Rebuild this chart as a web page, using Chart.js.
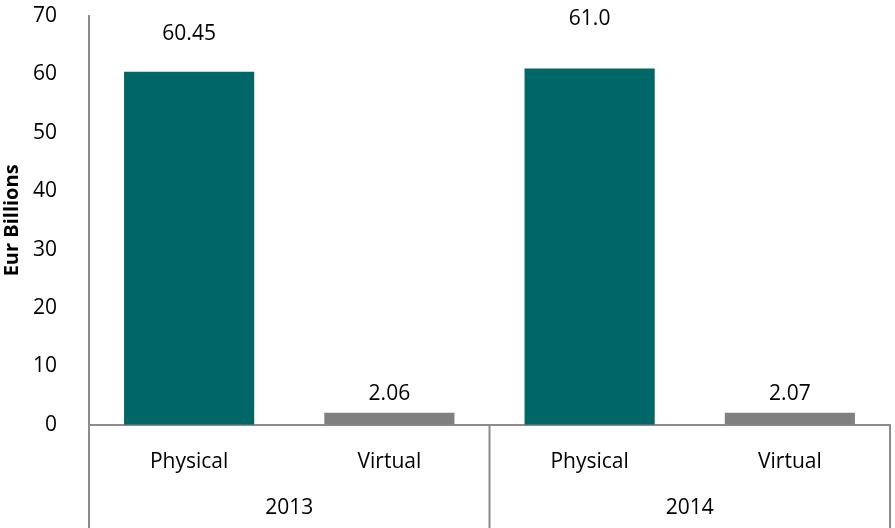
<!DOCTYPE html>
<html>
<head>
<meta charset="utf-8">
<script src="https://cdn.jsdelivr.net/npm/chart.js@4"></script>
<style>
  html, body { margin: 0; padding: 0; background: #fff; }
  #wrap { width: 895px; height: 528px; }
</style>
</head>
<body>
<div id="wrap"><canvas id="myChart" width="895" height="528"></canvas></div>
<script>
// data
const years = ["2013", "2014"];
const categories = ["Physical", "Virtual", "Physical", "Virtual"];
const values = [60.45, 2.06, 61.0, 2.07];
const valueLabels = ["60.45", "2.06", "61.0", "2.07"];
const barColors = ["#006666", "#808080", "#006666", "#808080"];
const yTicks = [0, 10, 20, 30, 40, 50, 60, 70];

const fontName = "'Open Sans', Lato, sans-serif";
const fontSize = 21;
const lineColor = "#8c8c8c";

// labels sit a bit higher on the tall bars, like in the original
const labelLift = [38, 19, 50, 19];

const groupAxis = {
  id: "groupAxis",
  afterDraw(chart) {
    const ctx = chart.ctx;
    const area = chart.chartArea;
    const x = chart.scales.x;
    const h = chart.height;
    ctx.save();
    ctx.strokeStyle = lineColor;
    ctx.lineWidth = 2;
    // left line goes down through the category rows
    ctx.beginPath();
    ctx.moveTo(area.left, area.bottom);
    ctx.lineTo(area.left, h);
    ctx.stroke();
    // group separators
    const per = categories.length / years.length;
    for (let g = 1; g <= years.length; g++) {
      let px;
      if (g == years.length) px = area.right;
      else px = (x.getPixelForValue(g * per - 1) + x.getPixelForValue(g * per)) / 2;
      ctx.beginPath();
      ctx.moveTo(px, area.bottom);
      ctx.lineTo(px, h);
      ctx.stroke();
    }
    // year labels
    ctx.fillStyle = "#000";
    ctx.font = fontSize + "px " + fontName;
    ctx.textAlign = "center";
    ctx.textBaseline = "middle";
    for (let g = 0; g < years.length; g++) {
      const a = x.getPixelForValue(g * per);
      const b = x.getPixelForValue(g * per + per - 1);
      ctx.fillText(years[g], (a + b) / 2, 508);
    }
    // value labels
    const meta = chart.getDatasetMeta(0);
    meta.data.forEach((bar, i) => {
      ctx.fillText(valueLabels[i], bar.x, bar.y - labelLift[i]);
    });
    ctx.restore();
  },
};

const ctx = document.getElementById("myChart").getContext("2d");
const chart = new Chart(ctx, {
  type: "bar",
  data: {
    labels: categories,
    datasets: [
      {
        data: values,
        backgroundColor: barColors,
        barPercentage: 0.65,
        categoryPercentage: 1,
      },
    ],
  },
  options: {
    responsive: false,
    animation: false,
    layout: { padding: { top: 16, right: 5, bottom: 36, left: 0 } },
    plugins: {
      legend: { display: false },
      tooltip: { enabled: false },
    },
    scales: {
      x: {
        grid: { display: false },
        border: { display: true, color: lineColor, width: 2 },
        ticks: {
          color: "#000",
          font: { family: fontName, size: fontSize },
          padding: 17,
        },
      },
      y: {
        min: 0,
        max: 70,
        afterBuildTicks: (scale) => {
          scale.ticks = yTicks.map((v) => ({ value: v }));
        },
        afterFit: (scale) => {
          scale.width = 89;
          scale.paddingTop = 0;
          scale.paddingBottom = 0;
        },
        grid: { display: false },
        border: { display: true, color: lineColor, width: 2 },
        ticks: {
          color: "#000",
          font: { family: fontName, size: fontSize },
          padding: 24,
        },
        title: {
          display: true,
          text: "Eur Billions",
          color: "#000",
          font: { family: fontName, size: 20, weight: "bold" },
          padding: { top: 0, bottom: 0 },
        },
      },
    },
  },
  plugins: [groupAxis],
});
</script>
</body>
</html>
